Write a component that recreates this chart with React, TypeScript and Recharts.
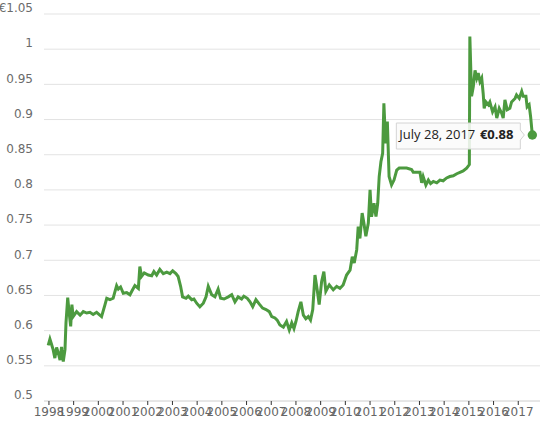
import { LineChart, Line, XAxis, YAxis, CartesianGrid, ReferenceDot } from 'recharts'

// decimal years
const years = [
  1997.97, 1998.04, 1998.11, 1998.17, 1998.24, 1998.31, 1998.38, 1998.45, 1998.51, 1998.58,
  1998.65, 1998.69, 1998.76, 1998.82, 1998.88, 1998.93, 1998.98, 1999.12, 1999.26, 1999.39,
  1999.53, 1999.66, 1999.79, 1999.93, 2000.06, 2000.13, 2000.27, 2000.34, 2000.47, 2000.6,
  2000.74, 2000.81, 2000.9, 2001.01, 2001.15, 2001.28, 2001.37, 2001.48, 2001.62, 2001.68,
  2001.75, 2001.86, 2002.02, 2002.16, 2002.25, 2002.36, 2002.49, 2002.63, 2002.77, 2002.9,
  2003.01, 2003.14, 2003.23, 2003.33, 2003.41, 2003.55, 2003.64, 2003.78, 2003.87, 2003.98,
  2004.11, 2004.25, 2004.36, 2004.45, 2004.59, 2004.72, 2004.85, 2004.95, 2005.09, 2005.26,
  2005.4, 2005.53, 2005.66, 2005.8, 2005.89, 2006.03, 2006.14, 2006.25, 2006.38, 2006.51,
  2006.65, 2006.79, 2006.92, 2007.02, 2007.15, 2007.24, 2007.35, 2007.49, 2007.62, 2007.73,
  2007.83, 2007.92, 2008.0, 2008.09, 2008.2, 2008.3, 2008.4, 2008.5, 2008.59, 2008.68,
  2008.77, 2008.86, 2008.94, 2009.04, 2009.13, 2009.21, 2009.35, 2009.51, 2009.65, 2009.78,
  2009.91, 2010.05, 2010.19, 2010.28, 2010.36, 2010.46, 2010.52, 2010.59, 2010.68, 2010.75,
  2010.83, 2010.93, 2011.0, 2011.06, 2011.16, 2011.24, 2011.31, 2011.37, 2011.44, 2011.51,
  2011.56, 2011.63, 2011.7, 2011.77, 2011.87, 2011.97, 2012.08, 2012.18, 2012.28, 2012.48,
  2012.68, 2012.75, 2012.89, 2013.02, 2013.09, 2013.15, 2013.26, 2013.36, 2013.45, 2013.56,
  2013.7, 2013.83, 2013.96, 2014.1, 2014.23, 2014.37, 2014.51, 2014.64, 2014.77, 2014.91,
  2015.02, 2015.04, 2015.11, 2015.18, 2015.25, 2015.32, 2015.38, 2015.45, 2015.52, 2015.58,
  2015.62, 2015.69, 2015.79, 2015.85, 2015.96, 2016.06, 2016.13, 2016.23, 2016.33, 2016.39,
  2016.46, 2016.55, 2016.66, 2016.73, 2016.87, 2016.93, 2017.04, 2017.14, 2017.2, 2017.31,
  2017.36, 2017.44, 2017.5, 2017.57,
]

// euro value at each date
const rates = [
  0.579, 0.588, 0.58, 0.573, 0.561, 0.576, 0.568, 0.558, 0.577, 0.556,
  0.573, 0.611, 0.647, 0.625, 0.606, 0.637, 0.62, 0.627, 0.622, 0.627,
  0.625, 0.626, 0.623, 0.626, 0.622, 0.62, 0.637, 0.646, 0.644, 0.646,
  0.664, 0.659, 0.662, 0.653, 0.654, 0.651, 0.657, 0.664, 0.66, 0.691,
  0.677, 0.682, 0.679, 0.678, 0.684, 0.679, 0.687, 0.681, 0.683, 0.681,
  0.685, 0.681, 0.677, 0.663, 0.648, 0.646, 0.649, 0.644, 0.645, 0.639,
  0.634, 0.639, 0.648, 0.663, 0.651, 0.648, 0.659, 0.646, 0.645, 0.648,
  0.651, 0.641, 0.648, 0.645, 0.649, 0.646, 0.641, 0.634, 0.644, 0.638,
  0.632, 0.63, 0.627, 0.62, 0.618, 0.615, 0.608, 0.605, 0.613, 0.601,
  0.611, 0.603, 0.613, 0.627, 0.641, 0.622, 0.617, 0.62, 0.615, 0.63,
  0.679, 0.658, 0.637, 0.67, 0.684, 0.656, 0.665, 0.658, 0.663, 0.66,
  0.665, 0.679, 0.686, 0.705, 0.696, 0.715, 0.748, 0.731, 0.767, 0.753,
  0.734, 0.753, 0.8, 0.762, 0.781, 0.762, 0.781, 0.819, 0.84, 0.852,
  0.923, 0.866, 0.897, 0.819, 0.807, 0.814, 0.828, 0.831, 0.831, 0.831,
  0.829, 0.825, 0.825, 0.825, 0.81, 0.819, 0.807, 0.814, 0.809, 0.812,
  0.81, 0.814, 0.813, 0.817, 0.819, 0.82, 0.823, 0.825, 0.827, 0.831,
  0.836, 1.018, 0.933, 0.947, 0.97, 0.959, 0.966, 0.954, 0.959, 0.937,
  0.916, 0.925, 0.921, 0.925, 0.911, 0.918, 0.902, 0.916, 0.909, 0.902,
  0.928, 0.914, 0.916, 0.925, 0.93, 0.935, 0.93, 0.94, 0.933, 0.933,
  0.918, 0.921, 0.904, 0.878,
]

const yearTicks = [
  1998, 1999, 2000, 2001, 2002, 2003, 2004, 2005, 2006, 2007,
  2008, 2009, 2010, 2011, 2012, 2013, 2014, 2015, 2016, 2017,
]
const valueTicks = [0.5, 0.55, 0.6, 0.65, 0.7, 0.75, 0.8, 0.85, 0.9, 0.95, 1, 1.05]

const lastDateLabel = 'July 28, 2017'

const green = '#4c9a3f'
const labelFont = 'DejaVu Sans'

const data = years.map((t, i) => ({ t, value: rates[i] }))
const last = data[data.length - 1]

const formatValue = (v: number) => {
  const s = String(Number(v.toFixed(2)))
  return v === 1.05 ? '€' + s : s
}

const Marker = (props: any) => {
  const { cx, cy } = props
  const right = cx - 12
  const left = cx - 136
  const top = cy - 12
  const bottom = cy + 14
  return (
    <g>
      <path
        d={`M${left},${top} H${right} V${cy - 5} L${right + 4},${cy} L${right},${cy + 5} V${bottom} H${left} Z`}
        fill="rgba(250,250,250,0.88)"
        stroke="#d4d4d4"
      />
      <text x={left + 3} y={cy + 4} fontFamily="Open Sans" fontSize={13} fill="#222">
        {lastDateLabel}
      </text>
      <text x={right - 7} y={cy + 4} textAnchor="end" fontFamily="Open Sans" fontSize={13} fontWeight="bold" fill="#222">
        €{last.value.toFixed(2)}
      </text>
      <circle cx={cx} cy={cy} r={4.7} fill={green} />
    </g>
  )
}

export default function App() {
  return (
    <div style={{ position: 'absolute', left: 0, top: 0 }}>
      <LineChart width={540} height={431} data={data} margin={{ top: 14, right: 0, bottom: 0, left: 0 }}>
        <CartesianGrid vertical={false} stroke="#e3e3e3" />
        <XAxis
          dataKey="t"
          type="number"
          domain={[1997.8, 2017.88]}
          ticks={yearTicks}
          interval={0}
          height={30}
          tickSize={4}
          tickMargin={2}
          axisLine={{ stroke: '#dcdcdc' }}
          tickLine={{ stroke: '#333' }}
          tick={{ fontSize: 12, fill: '#666', fontFamily: labelFont }}
        />
        <YAxis
          domain={[0.5, 1.05]}
          ticks={valueTicks}
          width={44}
          tickSize={0}
          tickMargin={11}
          axisLine={false}
          tickLine={false}
          tickFormatter={formatValue}
          tick={{ fontSize: 12, fill: '#6b6b6b', fontFamily: labelFont, dy: -6 }}
        />
        <Line
          type="linear"
          dataKey="value"
          stroke={green}
          strokeWidth={3}
          dot={false}
          isAnimationActive={false}
        />
        <ReferenceDot x={last.t} y={last.value} shape={Marker} />
      </LineChart>
    </div>
  )
}
